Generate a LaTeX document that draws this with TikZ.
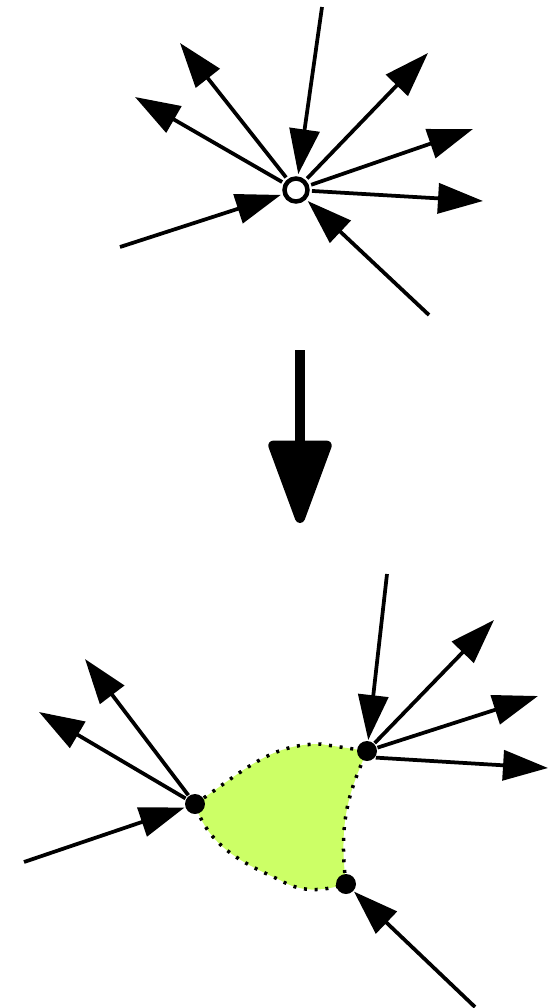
\documentclass[tikz,border=0pt]{standalone}
\usepackage{xcolor}
\usepackage{tikz}
\usetikzlibrary{arrows.meta}
\definecolor{regiongreen}{RGB}{204,255,102}

\begin{document}
\begin{tikzpicture}[x=0.02cm, y=-0.02cm,
        hub/.style={circle, draw, fill=white, line width=0.09cm,
                minimum size=0.46cm, inner sep=0pt, outer sep=0.09cm},
        vertex/.style={circle, fill=black, minimum size=0.4cm,
                inner sep=0pt, outer sep=0.02cm},
        arrow/.style={-{Triangle[length=0.9cm, width=0.6cm]}, line width=0.075cm},
        bigarrow/.style={-{Triangle[length=1.85cm, width=1.3cm, round]}, line width=0.2cm},
        region/.style={fill=regiongreen, draw=black, line width=0.07cm,
                dash pattern=on 0.06cm off 0.155cm}
        ]
        \useasboundingbox (0,0) rectangle (552,1008);

        % ---------------- Single vertex ----------------
        \node[hub] (hub) at (296,190) {};
        \coordinate (inN)    at (322,7);
        \coordinate (inSW)   at (120,247);
        \coordinate (inSE)   at (429,315);
        \coordinate (outNW)  at (180,43);
        \coordinate (outW)   at (135,97);
        \coordinate (outNE)  at (428,53);
        \coordinate (outENE) at (473,129);
        \coordinate (outE)   at (483,201);

        \draw[arrow] (inN)  -- (hub);
        \draw[arrow] (inSW) -- (hub);
        \draw[arrow] (inSE) -- (hub);
        \draw[arrow] (hub) -- (outNW);
        \draw[arrow] (hub) -- (outW);
        \draw[arrow] (hub) -- (outNE);
        \draw[arrow] (hub) -- (outENE);
        \draw[arrow] (hub) -- (outE);

        % ---------------- Big arrow --------------------
        \coordinate (bigtop) at (300,350);
        \coordinate (bigtip) at (300,523);
        \draw[bigarrow] (bigtop) -- (bigtip);

        % ---------------- Region (dotted) --------------
        \draw[region] (195,804) .. controls (245,770) and (270,744) .. (320,744)
                -- (367,751) .. controls (350,790) and (338,820) .. (346,884)
                .. controls (320,892) and (300,892) .. (280,880)
                .. controls (240,862) and (208,845) .. (195,804) -- cycle;

        % ---------------- Split vertices ---------------
        \node[vertex] (L) at (195,804) {};
        \node[vertex] (R) at (367,751) {};
        \node[vertex] (B) at (346,884) {};

        \coordinate (inRN)   at (387,574);
        \coordinate (outRNE) at (494,620);
        \coordinate (outRENE) at (538,696);
        \coordinate (outRE)  at (548,768);
        \coordinate (outLNW) at (85,659);
        \coordinate (outLW)  at (39,712);
        \coordinate (inLW)   at (24,862);
        \coordinate (inBSE)  at (475,1007);

        \draw[arrow] (inRN) -- (R);
        \draw[arrow] (R) -- (outRNE);
        \draw[arrow] (R) -- (outRENE);
        \draw[arrow] (R.-37) -- (outRE);
        \draw[arrow] (L) -- (outLNW);
        \draw[arrow] (L) -- (outLW);
        \draw[arrow] (inLW) -- (L);
        \draw[arrow] (inBSE) -- (B);

    \end{tikzpicture}
\end{document}
